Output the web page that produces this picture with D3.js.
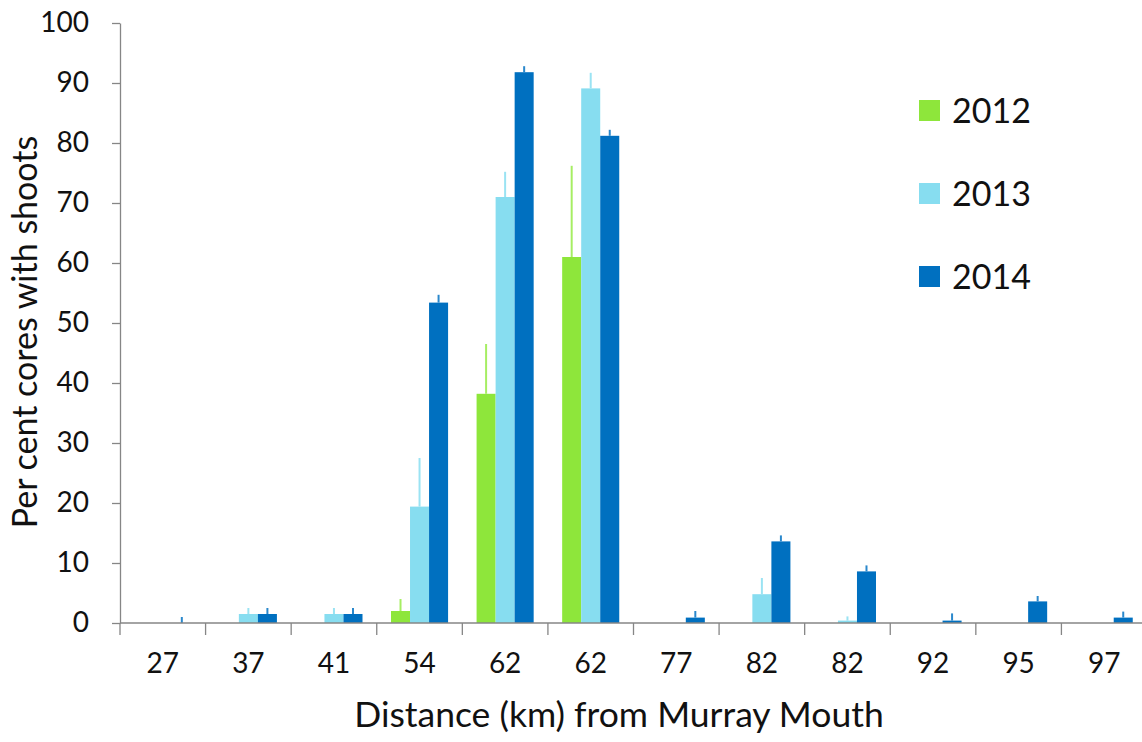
<!DOCTYPE html>
<html>
<head>
  <meta charset="UTF-8">
  <style>
    body { margin: 0; background: #fff; }
    text { font-family: Lato, "Open Sans", sans-serif; fill: #111; }
  </style>
</head>
<body>
<svg></svg>
<script src="https://d3js.org/d3.v7.min.js"></script>
<script>

let width = 1142, height = 742;

// distance labels (two sites share 62 and 82 km)
let sites = ["27", "37", "41", "54", "62", "62", "77", "82", "82", "92", "95", "97"];
let years = ["2012", "2013", "2014"];

let v2012 = [0, 0, 0, 2, 38.2, 61, 0, 0, 0, 0, 0, 0];
let v2013 = [0, 1.5, 1.5, 19.4, 71, 89.1, 0, 4.8, 0.4, 0, 0, 0];
let v2014 = [0, 1.5, 1.5, 53.4, 91.8, 81.2, 0.9, 13.6, 8.6, 0.4, 3.6, 0.9];

// upper error (standard error) for each bar
let e2012 = [0, 0, 0, 2, 8.3, 15.2, 0, 0, 0, 0, 0, 0];
let e2013 = [0, 1, 1, 8.1, 4.2, 2.6, 0, 2.7, 0.7, 0, 0, 0];
let e2014 = [1, 1, 1, 1.3, 1, 1, 1.1, 1, 1, 1.2, 0.9, 1];

let yTicks = [0, 10, 20, 30, 40, 50, 60, 70, 80, 90, 100];
let colors = ["#8ee63b", "#87ddf0", "#0070c0"];
let errColors = ["#a6ee63", "#9ae3f3", "#2a88cc"];

let values = [v2012, v2013, v2014];
let errors = [e2012, e2013, e2014];

let svg = d3.select("svg")
    .attr("width", width)
    .attr("height", height);

let mLeft = 120, mRight = 1147, mTop = 23, mBottom = 623;
let axisColor = "#868686";

let idx = d3.range(sites.length);

let x = d3.scaleBand()
    .domain(idx)
    .range([mLeft, mRight])
    .paddingInner(0.333)
    .paddingOuter(0.1665);

let xEdge = d3.scaleLinear()
    .domain([0, sites.length])
    .range([mLeft, mRight]);

let xSub = d3.scaleBand()
    .domain(years)
    .range([0, x.bandwidth()]);

let y = d3.scaleLinear()
    .domain([0, 100])
    .range([mBottom, mTop]);

let color = d3.scaleOrdinal().domain(years).range(colors);
let errColor = d3.scaleOrdinal().domain(years).range(errColors);

// flatten into bar records
let bars = [];
years.forEach((yr, k) => {
    idx.forEach(i => {
        bars.push({ year: yr, i: i, v: values[k][i], e: errors[k][i] });
    });
});

// bars
svg.append("g")
    .selectAll("rect")
    .data(bars.filter(d => d.v > 0))
    .enter()
    .append("rect")
    .attr("x", d => x(d.i) + xSub(d.year))
    .attr("y", d => y(d.v))
    .attr("width", xSub.bandwidth())
    .attr("height", d => y(0) - y(d.v))
    .attr("fill", d => color(d.year));

// error bars, upper half only
svg.append("g")
    .selectAll("line")
    .data(bars.filter(d => d.e > 0))
    .enter()
    .append("line")
    .attr("x1", d => x(d.i) + xSub(d.year) + xSub.bandwidth() / 2)
    .attr("x2", d => x(d.i) + xSub(d.year) + xSub.bandwidth() / 2)
    .attr("y1", d => y(d.v))
    .attr("y2", d => y(d.v + d.e))
    .attr("stroke", d => errColor(d.year))
    .attr("stroke-width", 2);

// y axis
let yAxis = svg.append("g")
    .attr("transform", "translate(" + mLeft + ",0)")
    .call(d3.axisLeft(y).tickValues(yTicks).tickSize(8).tickSizeOuter(0).tickPadding(23));

yAxis.selectAll("line").attr("stroke", axisColor).attr("stroke-width", 1.3);
yAxis.select(".domain").attr("stroke", axisColor).attr("stroke-width", 1.3);
yAxis.selectAll("text")
    .style("font-family", "Lato, 'Open Sans', sans-serif")
    .style("font-size", "28px")
    .attr("fill", "#111");

// x axis: ticks at category boundaries, labels centred in each band
let xAxis = svg.append("g")
    .attr("transform", "translate(0," + mBottom + ")");

xAxis.append("line")
    .attr("x1", mLeft)
    .attr("x2", width)
    .attr("stroke", axisColor)
    .attr("stroke-width", 1.3);

xAxis.selectAll(".tick")
    .data(d3.range(sites.length + 1))
    .enter()
    .append("line")
    .attr("x1", d => xEdge(d))
    .attr("x2", d => xEdge(d))
    .attr("y1", 0)
    .attr("y2", 12)
    .attr("stroke", axisColor)
    .attr("stroke-width", 1.3);

xAxis.selectAll("text")
    .data(idx)
    .enter()
    .append("text")
    .attr("x", d => x(d) + x.bandwidth() / 2)
    .attr("y", 50)
    .attr("text-anchor", "middle")
    .style("font-size", "28px")
    .text(d => sites[d]);

// axis titles
svg.append("text")
    .attr("x", 619)
    .attr("y", 727)
    .attr("text-anchor", "middle")
    .style("font-size", "35.5px")
    .text("Distance (km) from Murray Mouth");

svg.append("text")
    .attr("transform", "translate(37,332) rotate(-90)")
    .attr("text-anchor", "middle")
    .style("font-size", "34px")
    .text("Per cent cores with shoots");

// legend
let legend = svg.append("g")
    .selectAll("g")
    .data(years)
    .enter()
    .append("g")
    .attr("transform", (d, i) => "translate(919," + (100 + i * 83) + ")");

legend.append("rect")
    .attr("width", 21)
    .attr("height", 21)
    .attr("fill", d => color(d));

legend.append("text")
    .attr("x", 33)
    .attr("y", 23)
    .style("font-size", "34px")
    .text(d => d);

</script>
</body>
</html>
